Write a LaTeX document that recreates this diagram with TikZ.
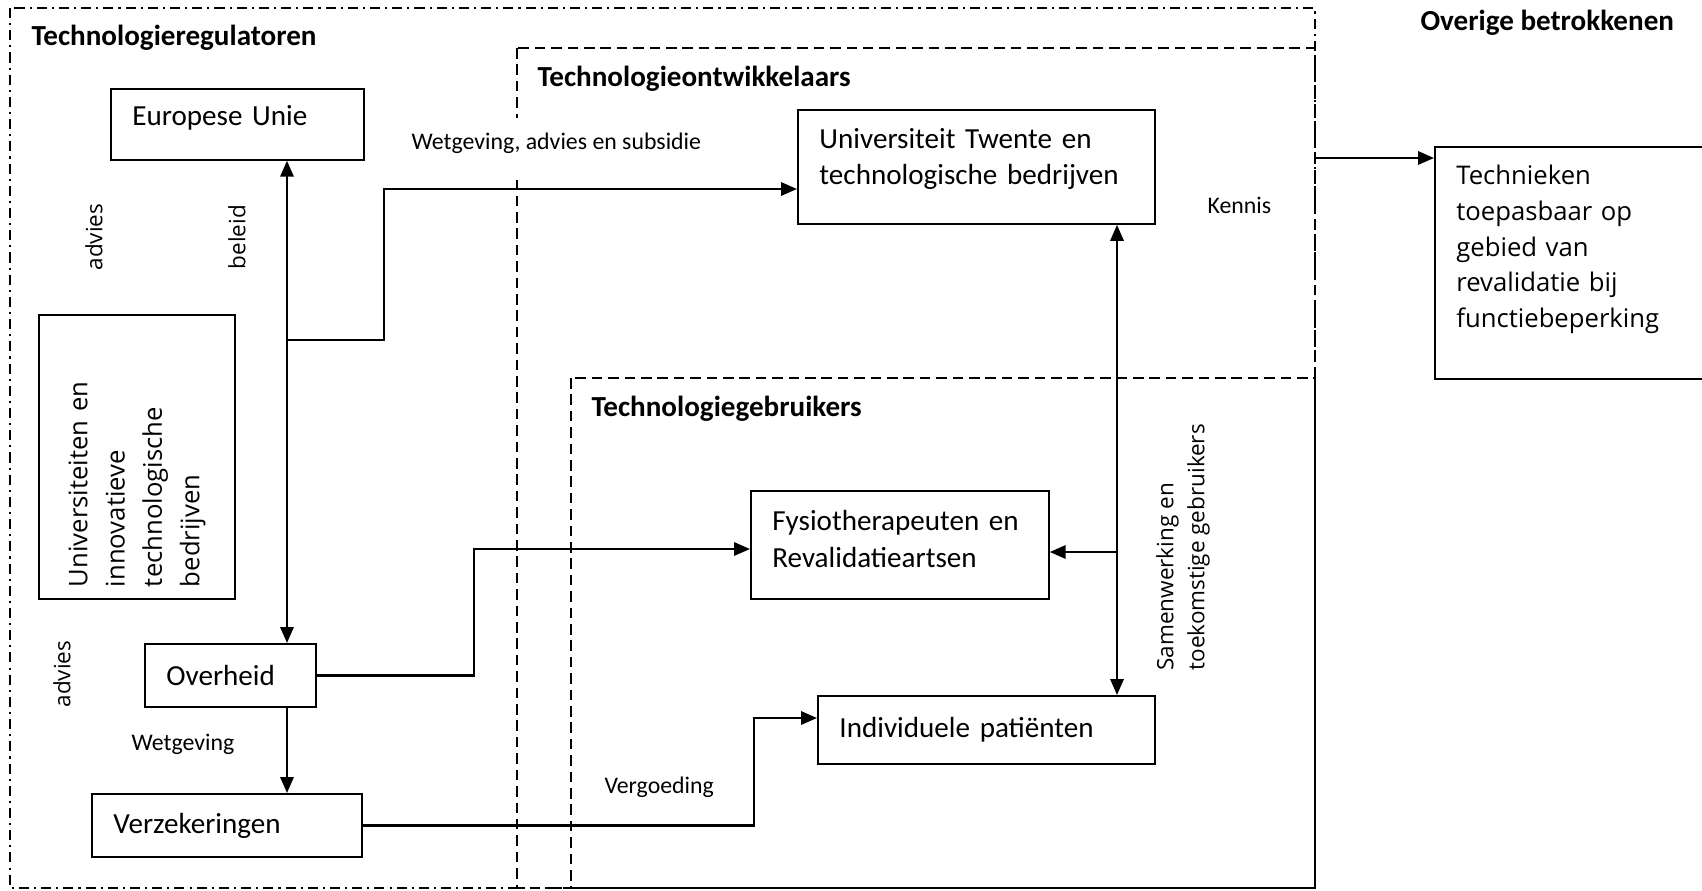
\documentclass[tikz,border=0pt]{standalone}
\usepackage{fontspec}
\setmainfont{Carlito}
\newfontfamily\opensans{Open Sans}
\usetikzlibrary{arrows.meta}

\begin{document}
\begin{tikzpicture}[x=0.378pt, y=-0.378pt, >={Triangle[length=6pt, width=5pt]},
        main/.style = {draw, line width=0.7pt, anchor=north west, align=left, inner xsep=8.1pt, inner ysep=0pt, font=\fontsize{11}{13.8}\selectfont},
        kop/.style = {anchor=west, inner sep=0pt, font=\bfseries\fontsize{11}{13.8}\selectfont},
        klein/.style = {anchor=west, inner sep=0pt, font=\fontsize{9}{11}\selectfont},
        draai/.style = {rotate=90, inner sep=0pt, font=\opensans\fontsize{8.5}{11.7}\selectfont},
        regio/.style = {line width=0.5pt, dash pattern=on 3.8pt off 1.9pt on 0.8pt off 1.9pt},
        groep/.style = {line width=0.5pt, dash pattern=on 4pt off 2.2pt},
        pijl/.style = {line width=0.85pt}]
            \useasboundingbox (0,0) rectangle (1702,890);

            \draw[regio] (10,8) rectangle (1315,888);
            \draw[groep] (517,48) rectangle (1315,888);
            \draw[groep] (571,378) rectangle (1315,888);

            \node[kop] (TReg) at (31,38) {Technologieregulatoren};
            \node[kop] (TOntw) at (537,79) {Technologieontwikkelaars};
            \node[kop] (TGebr) at (591,409) {Technologiegebruikers};
            \node[kop] (Overig) at (1420,23) {Overige betrokkenen};

            \node[main, minimum width=95.6pt, minimum height=26.8pt, text width=79.4pt, text depth=6.5pt] (EU) at (110,88) {Europese Unie};
            \node[main, minimum width=135pt, minimum height=43.1pt, text width=118.7pt, text depth=21.8pt] (UT) at (797,109) {Universiteit Twente en\\technologische bedrijven};
            \node[main, minimum width=113.4pt, minimum height=87.7pt, text width=97.2pt, text depth=66.5pt,
                font=\opensans\fontsize{9.7}{13.5}\selectfont] (TK) at (1434,146) {Technieken\\toepasbaar op\\gebied van\\revalidatie bij\\functiebeperking};
            \node[main, rotate=90, anchor=center, minimum width=107.4pt, minimum height=74.1pt, text width=98.3pt, inner xsep=4.5pt,
                font=\opensans\fontsize{9.7}{14.1}\selectfont] (UI) at (137,457) {Universiteiten en\\innovatieve\\technologische\\bedrijven};
            \node[main, minimum width=112.6pt, minimum height=40.8pt, text width=96.4pt, text depth=18.3pt] (FT) at (750,490) {Fysiotherapeuten en\\Revalidatieartsen};
            \node[main, minimum width=64.6pt, minimum height=23.8pt, text width=48.4pt] (OV) at (144,643) {Overheid};
            \node[main, minimum width=127.4pt, minimum height=25.7pt, text width=111.1pt] (IP) at (817,695) {Individuele patiënten};
            \node[main, minimum width=102.1pt, minimum height=23.8pt, text width=85.8pt] (VZ) at (91,793) {Verzekeringen};

            \node[klein, anchor=base west, fill=white, text height=11.7pt, text depth=11.7pt] (WAS) at (411,149) {Wetgeving, advies en subsidie};
            \node[klein] (Kennis) at (1207,205) {Kennis};
            \node[klein] (Wetg) at (131,744) {Wetgeving};
            \node[klein] (Verg) at (604,787) {Vergoeding};

            \node[draai] (Adv1) at (94,237) {advies};
            \node[draai] (Beleid) at (237,237) {beleid};
            \node[draai] (Adv2) at (62,674) {advies};
            \node[draai, anchor=west, align=left] (Samen) at (1183,671) {Samenwerking en\\toekomstige gebruikers};

            \coordinate (J1) at (287,340);
            \coordinate (K1) at (384,189);
            \coordinate (K2) at (474,549);
            \coordinate (K3) at (754,718);
            \coordinate (J2) at (1117,552);
            \coordinate (K4) at (1315,158);

            \draw[pijl, <->] (EU.south -| J1) -- (OV.north -| J1);
            \draw[pijl, ->] (J1) -| (K1) -- (K1 -| UT.west);
            \draw[pijl, ->] (OV.south -| J1) -- (VZ.north -| J1);
            \draw[pijl, ->] (OV.east) -| (K2) -- (K2 -| FT.west);
            \draw[pijl, ->] (VZ.east) -| (K3) -- (K3 -| IP.west);

            \draw[pijl, <->] (UT.south -| J2) -- (IP.north -| J2);
            \draw[pijl, ->] (J2) -- (J2 -| FT.east);
            \draw[pijl, ->] (K4) -- (K4 -| TK.west);
        \end{tikzpicture}
\end{document}
